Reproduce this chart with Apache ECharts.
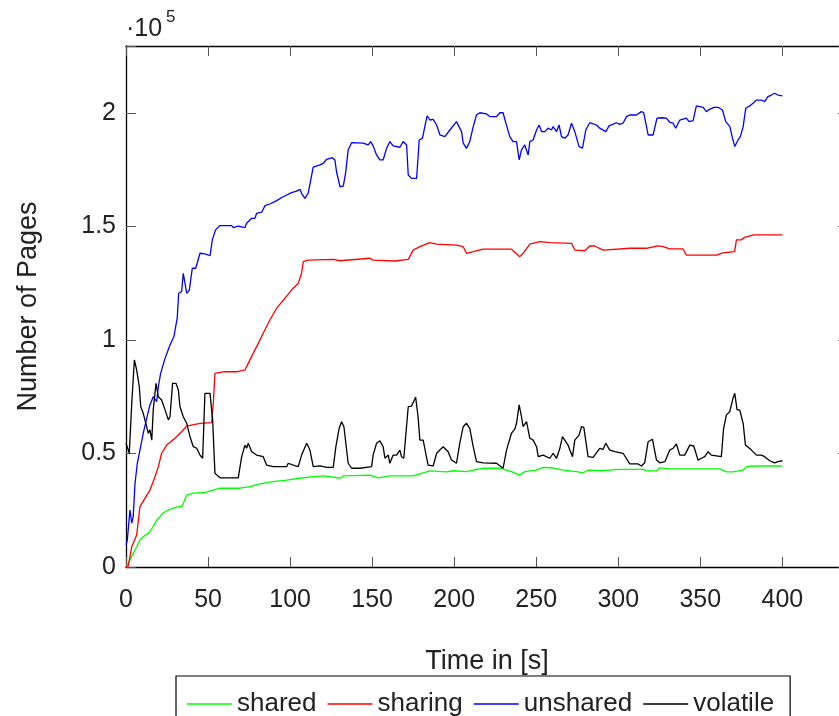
<!DOCTYPE html>
<html>
<head>
<meta charset="utf-8">
<script src="https://cdn.jsdelivr.net/npm/echarts@6/dist/echarts.min.js"></script>
<style>
  html, body { margin: 0; padding: 0; background: #fff; }
  #main { width: 839px; height: 716px; }
</style>
</head>
<body>
<div id="main"></div>
<script>
// values in units of 10^5 pages, [time in s, value]
const sharedData = [
  [0,0],[2.4,0.031],[4.4,0.06],[6.5,0.089],[8.5,0.119],[10.5,0.133],[13.6,0.148],[16.6,0.178],[18.7,0.207],
  [20.7,0.222],[22.7,0.239],[25.8,0.251],[28.8,0.259],[31.9,0.266],[33.9,0.266],[34.9,0.281],[37,0.317],
  [41,0.325],[47.1,0.327],[53.2,0.339],[57.3,0.347],[69.4,0.347],[75.5,0.354],[81.6,0.366],[89.7,0.376],
  [97.9,0.383],[106,0.391],[114.1,0.398],[120.2,0.401],[124.3,0.398],[130.4,0.391],[132.4,0.401],[148.6,0.405],
  [153.7,0.393],[160.8,0.401],[175,0.401],[179.1,0.41],[185.2,0.423],[195.3,0.419],[199.4,0.424],[207.5,0.42],
  [217.6,0.435],[227.8,0.435],[234.9,0.42],[240,0.405],[243,0.42],[250.2,0.427],[254.2,0.439],[260.3,0.436],
  [266.4,0.427],[274.5,0.42],[278.6,0.415],[281.6,0.427],[289.8,0.424],[299.9,0.43],[315.1,0.43],[317.2,0.423],
  [323.3,0.423],[325.3,0.437],[331.4,0.432],[361.8,0.432],[365.9,0.419],[369.9,0.419],[376,0.427],[378.1,0.442],
  [384.1,0.445],[400,0.445]
];

const sharingData = [
  [0,0],[1.4,0.005],[3.5,0.089],[6.5,0.141],[8.5,0.266],[14.6,0.339],[17.7,0.398],[19.7,0.442],[21.7,0.501],
  [24.8,0.537],[29.8,0.567],[33.9,0.596],[37,0.621],[45.1,0.633],[52.2,0.636],[53.2,0.721],[54.2,0.853],
  [59.3,0.86],[67.4,0.86],[72.5,0.868],[74.5,0.897],[77.5,0.941],[80.6,0.985],[83.6,1.03],[87.7,1.088],
  [91.8,1.14],[96.9,1.184],[100.9,1.22],[105,1.25],[107,1.294],[108,1.345],[111,1.352],[126.3,1.355],
  [130.4,1.349],[148.6,1.36],[150.6,1.352],[163.9,1.348],[172,1.355],[175,1.396],[179.1,1.411],[185.2,1.429],
  [189.3,1.422],[201.4,1.418],[205.5,1.411],[207.5,1.382],[211.6,1.389],[217.6,1.4],[234.9,1.4],[240,1.367],
  [242,1.382],[246.1,1.422],[252.2,1.433],[258.3,1.429],[271.5,1.426],[273.5,1.396],[279.6,1.393],[282.6,1.414],
  [285.7,1.414],[290.7,1.396],[307,1.404],[317.2,1.404],[324.2,1.415],[327.3,1.411],[331.4,1.401],[339.5,1.401],
  [341.5,1.374],[359.8,1.374],[363.8,1.384],[370.9,1.389],[372,1.441],[375,1.441],[377,1.452],[382.5,1.463],
  [400,1.463]
];

const unsharedData = [
  [0,0.097],[0.8,0.119],[2.4,0.251],[3.5,0.193],[4.4,0.222],[5.5,0.369],[6.9,0.457],[8.5,0.515],[10.5,0.589],
  [12.6,0.655],[14.6,0.714],[16.6,0.75],[18.7,0.728],[19.7,0.794],[21.1,0.853],[23.8,0.919],[26.8,0.978],
  [29.2,1.015],[31.2,1.096],[32.1,1.206],[33.9,1.213],[34.9,1.294],[37,1.206],[38.6,1.22],[40.4,1.316],
  [42.5,1.316],[45.1,1.382],[48.1,1.379],[51.2,1.371],[52.6,1.441],[54.6,1.485],[57.3,1.504],[64.4,1.504],
  [65.4,1.495],[68.4,1.502],[72.5,1.495],[73.5,1.514],[76.6,1.536],[78.6,1.536],[79.6,1.558],[82.7,1.563],
  [84.7,1.592],[87.7,1.599],[91.8,1.614],[95.8,1.631],[100.9,1.649],[104,1.656],[106,1.664],[107,1.646],
  [109,1.624],[111,1.646],[114.1,1.761],[118.2,1.771],[120.2,1.778],[122.3,1.796],[125.7,1.803],[127.3,1.793],
  [128.3,1.741],[130.4,1.675],[132.4,1.678],[133.8,1.734],[135.4,1.837],[137.5,1.869],[144.5,1.867],[147.6,1.859],
  [149.1,1.874],[150.6,1.855],[152.7,1.815],[154.7,1.793],[156.7,1.793],[158.8,1.844],[160.8,1.874],[162.8,1.855],
  [166.9,1.849],[168.9,1.874],[171,1.859],[172,1.727],[174,1.712],[177.1,1.712],[178.7,1.881],[180.7,1.889],
  [182.1,1.94],[183.5,1.987],[185.2,1.969],[187.2,1.972],[189.3,1.947],[191.3,1.903],[194.3,1.896],[197.4,1.925],
  [201.4,1.962],[204.5,1.918],[205.5,1.867],[207.5,1.844],[209.5,1.874],[211.6,1.94],[213.6,1.991],[215.6,2.001],
  [219.7,1.996],[221.7,1.984],[225.8,1.984],[227.8,2.001],[229.8,2.001],[231.5,1.955],[233.9,1.896],[235.9,1.874],
  [238,1.874],[239.6,1.793],[241,1.837],[243,1.859],[245.1,1.815],[246.1,1.874],[248.1,1.881],[250.2,1.925],
  [251.8,1.947],[253.2,1.918],[255.2,1.918],[257.2,1.933],[259.3,1.925],[260.3,1.94],[262.4,1.918],[263.9,1.947],
  [265.4,1.896],[267.4,1.889],[269.4,1.903],[271.5,1.955],[273.5,1.918],[276.1,1.852],[278.2,1.845],[280.2,1.925],
  [282.6,1.957],[286.7,1.947],[288.7,1.933],[292.4,1.918],[294.4,1.943],[298.9,1.957],[300.9,1.95],[302.9,1.955],
  [305,1.984],[307,1.991],[311.1,1.991],[314.1,2.006],[315.5,2.001],[318.2,1.903],[321.2,1.903],[323.6,1.977],
  [326.3,1.979],[329.3,1.977],[331.4,1.959],[333.4,1.955],[335,1.933],[337.5,1.969],[341.5,1.977],[343.1,1.962],
  [345.6,1.966],[347.6,2.031],[351.7,2.025],[353.7,2.006],[355.7,2.016],[358.2,2.025],[360.8,2.025],[363.5,2.013],
  [365.5,1.962],[368,1.94],[369.4,1.896],[371,1.852],[373,1.881],[374.4,1.896],[376.1,1.94],[377.7,2.021],
  [380.1,2.031],[382.1,2.043],[384.2,2.057],[387.2,2.057],[389.2,2.05],[391.2,2.072],[393.3,2.079],[395.3,2.087],
  [397.3,2.079],[400,2.075]
];

const volatileData = [
  [0,0.545],[0.8,0.545],[2,0.501],[3.5,0.721],[5.1,0.912],[6.5,0.868],[8.1,0.794],[9,0.706],[10.5,0.677],
  [12.6,0.618],[13.6,0.589],[14.6,0.604],[15.7,0.559],[16.6,0.692],[18.3,0.809],[19.7,0.75],[21.7,0.736],
  [23.8,0.692],[25.8,0.648],[26.8,0.662],[28.4,0.809],[30.5,0.809],[31.9,0.78],[32.9,0.706],[34.9,0.662],
  [37,0.633],[39,0.574],[41,0.53],[43.1,0.523],[45.1,0.493],[46.7,0.479],[48.1,0.765],[51.2,0.765],[52.8,0.648],
  [54.2,0.413],[57.3,0.393],[68.4,0.393],[70.5,0.486],[72.5,0.537],[73.5,0.523],[74.5,0.545],[76.6,0.508],
  [79.6,0.493],[83.6,0.486],[85.7,0.449],[89.7,0.442],[97.9,0.442],[98.9,0.457],[101.9,0.449],[105,0.442],
  [107,0.493],[110.1,0.545],[112.1,0.515],[114.1,0.442],[118.2,0.445],[122.3,0.439],[126.3,0.439],[127.9,0.53],
  [129.9,0.611],[131.4,0.64],[132.8,0.618],[135.4,0.457],[137.5,0.435],[142.5,0.435],[149.7,0.442],[150.6,0.493],
  [152.7,0.545],[154.7,0.556],[156.7,0.53],[157.8,0.479],[159.8,0.493],[160.8,0.457],[162.8,0.493],[164.9,0.493],
  [166.9,0.515],[167.9,0.486],[169.3,0.479],[172,0.706],[174,0.709],[176.5,0.748],[178,0.662],[179.1,0.559],
  [181.1,0.559],[184.1,0.449],[187.2,0.445],[189.3,0.501],[193.3,0.53],[196.3,0.508],[198.4,0.471],[201.4,0.457],
  [203.4,0.545],[205.5,0.618],[207.5,0.633],[209.5,0.611],[211.6,0.53],[213.6,0.464],[217.6,0.459],[225.8,0.457],
  [229.8,0.435],[231.9,0.515],[234.9,0.589],[236.9,0.607],[238,0.633],[239.6,0.714],[241,0.662],[242,0.618],
  [244.1,0.64],[246.1,0.567],[248.1,0.559],[250.2,0.53],[251.2,0.486],[254.2,0.493],[258.3,0.479],[260.3,0.501],
  [262.4,0.479],[264.4,0.523],[266,0.574],[267.4,0.559],[269.4,0.537],[270.5,0.515],[272.1,0.486],[273.5,0.559],
  [276.1,0.581],[277.6,0.618],[279,0.615],[281.6,0.486],[284.7,0.483],[288.7,0.523],[290.7,0.518],[292.4,0.545],
  [294.8,0.515],[297.9,0.508],[302.9,0.501],[307,0.454],[312.1,0.454],[314.1,0.445],[316.1,0.459],[318.2,0.552],
  [320.8,0.563],[323.3,0.471],[325.3,0.459],[328.4,0.464],[331.4,0.515],[333.4,0.523],[335.4,0.542],[337.5,0.493],
  [340.5,0.493],[343.6,0.537],[346,0.533],[348.6,0.471],[350.7,0.479],[352.7,0.486],[354.7,0.508],[356.7,0.493],
  [362.8,0.486],[364.2,0.611],[365.9,0.67],[367.9,0.684],[369.9,0.743],[371,0.765],[372.4,0.692],[374,0.692],
  [376.1,0.633],[377.5,0.537],[381.2,0.515],[384.2,0.493],[387.2,0.493],[389.2,0.486],[392.3,0.468],[395.3,0.459],
  [397.3,0.464],[400,0.468]
];

const seriesNames = ['shared', 'sharing', 'unshared', 'volatile'];
const seriesColors = ['#00ff00', '#ff0000', '#0000ff', '#000000'];
const seriesData = [sharedData, sharingData, unsharedData, volatileData];

const FONT = 'Liberation Sans';

let myChart = echarts.init(document.getElementById('main'));

function xAxisBase(pos) {
  return {
    type: 'value',
    position: pos,
    min: 0,
    max: 440,
    interval: 50,
    splitLine: { show: false },
    axisLine: { show: true, onZero: false, lineStyle: { color: '#000', width: 1.3 } },
    axisTick: { show: true, inside: true, length: 10, lineStyle: { color: '#555', width: 1 } },
    axisLabel: { show: false }
  };
}

function yAxisBase(pos) {
  return {
    type: 'value',
    position: pos,
    min: 0,
    max: 2.295,
    interval: 0.5,
    splitLine: { show: false },
    axisLine: { show: true, onZero: false, lineStyle: { color: '#000', width: 1.3 } },
    axisTick: { show: true, inside: true, length: 10, lineStyle: { color: '#555', width: 1 } },
    axisLabel: { show: false }
  };
}

let xBottom = xAxisBase('bottom');
xBottom.name = 'Time in [s]';
xBottom.nameLocation = 'middle';
xBottom.nameGap = 81;
xBottom.nameTextStyle = { fontFamily: FONT, fontSize: 27, color: '#222' };
xBottom.axisLabel = {
  show: true, margin: 21, fontFamily: FONT, fontSize: 25, color: '#222',
  formatter: function (v) { return v > 400 ? '' : String(v); }
};

let yLeft = yAxisBase('left');
yLeft.name = 'Number of Pages';
yLeft.nameLocation = 'middle';
yLeft.nameGap = 84;
yLeft.nameTextStyle = { fontFamily: FONT, fontSize: 27, color: '#222' };
yLeft.axisLabel = {
  show: true, margin: 10, fontFamily: FONT, fontSize: 25, color: '#222',
  formatter: function (v) { return v > 2.01 ? '' : String(v); }
};

let series = [];
for (let i = 0; i < seriesNames.length; i++) {
  series.push({
    name: seriesNames[i],
    type: 'line',
    xAxisIndex: 0,
    yAxisIndex: 0,
    data: seriesData[i],
    showSymbol: false,
    symbol: 'none',
    color: seriesColors[i],
    lineStyle: { width: 1.3, color: seriesColors[i] }
  });
}

let chartOption = {
  animation: false,
  backgroundColor: '#fff',
  grid: { left: 126, top: 46, width: 722, bottom: 149, containLabel: false, outerBoundsMode: 'none' },
  xAxis: [xBottom, xAxisBase('top')],
  yAxis: [yLeft, yAxisBase('right')],
  legend: {
    data: seriesNames,
    left: 176,
    top: 676,
    orient: 'horizontal',
    icon: 'rect',
    itemWidth: 45,
    itemHeight: 1.5,
    itemGap: 11,
    padding: [15, 16, 30, 11],
    borderColor: '#000',
    borderWidth: 1.2,
    borderRadius: 0,
    textStyle: { fontFamily: FONT, fontSize: 26, color: '#222' }
  },
  graphic: [
    { type: 'text', left: 126, top: 17, style: { text: '\u00b710', fontFamily: FONT, fontSize: 25, fill: '#222' } },
    { type: 'text', left: 166, top: 9, style: { text: '5', fontFamily: FONT, fontSize: 17, fill: '#222' } }
  ],
  series: series
};

chartOption && myChart.setOption(chartOption);
</script>
</body>
</html>
